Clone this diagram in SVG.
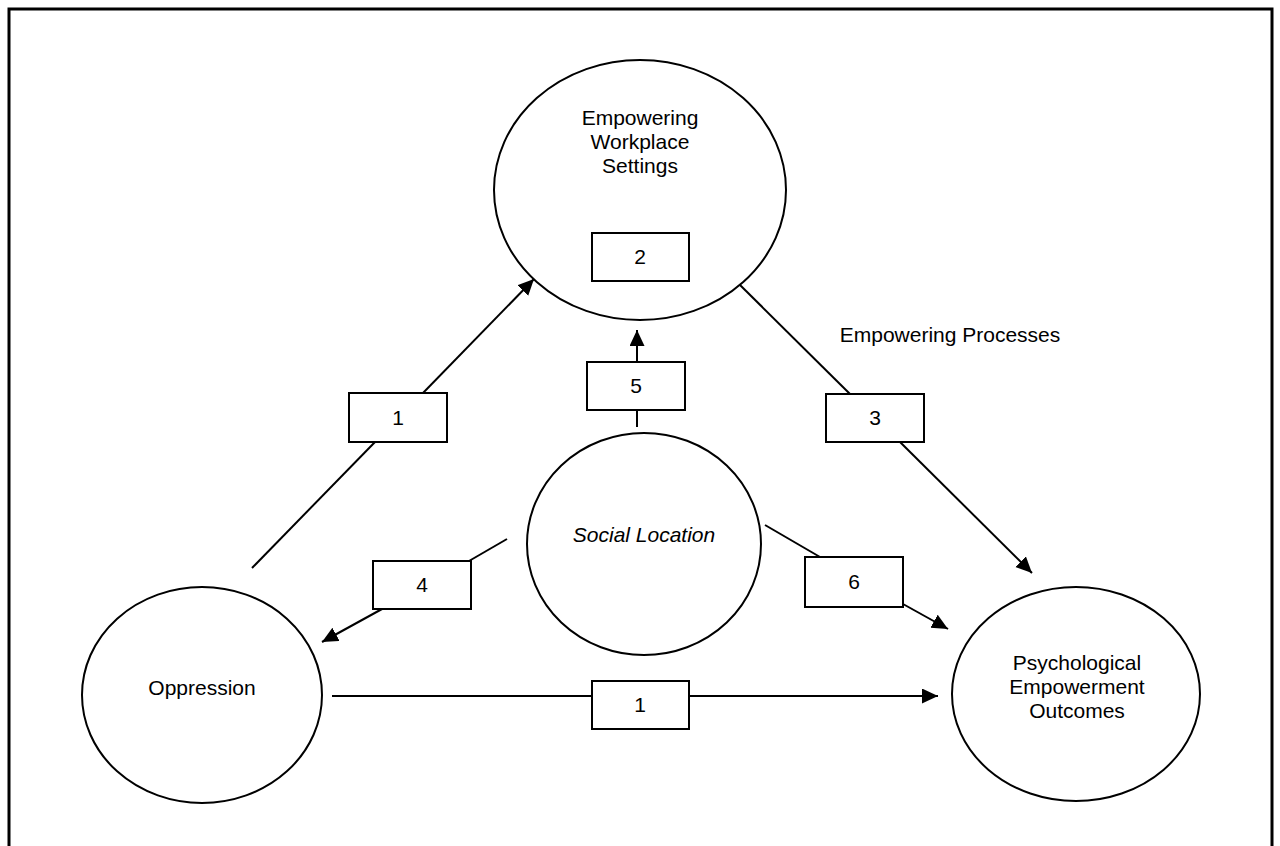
<svg xmlns="http://www.w3.org/2000/svg" width="1280" height="846" viewBox="0 0 1280 846">
<defs>
<style>
.n{fill:#fff;stroke:#000;stroke-width:2}
.b{fill:#fff;stroke:#000;stroke-width:2}
.c{fill:none;stroke:#000;stroke-width:2}
.t{font-family:"Liberation Sans",Arial,sans-serif;font-size:21px;fill:#000;text-anchor:middle}
</style>
<marker id="ah" markerUnits="userSpaceOnUse" markerWidth="17" markerHeight="16" refX="16" refY="7.5" orient="auto" viewBox="0 0 17 16">
<path d="M0,0 L16,7.5 L0,15 z" fill="#000"/>
</marker>
</defs>
<rect width="1280" height="846" fill="#fff"/>
<path d="M9,846 V9 H1272 V846" fill="none" stroke="#000" stroke-width="3"/>
<g id="connectors">
<line class="c" x1="252" y1="568" x2="375" y2="442"/>
<line class="c" x1="423" y1="393" x2="534" y2="279" marker-end="url(#ah)"/>
<line class="c" x1="740" y1="285" x2="850" y2="394"/>
<line class="c" x1="900" y1="442" x2="1032" y2="573" marker-end="url(#ah)"/>
<line class="c" x1="637" y1="427" x2="637" y2="410"/>
<line class="c" x1="637" y1="362" x2="637" y2="330" marker-end="url(#ah)"/>
<line class="c" x1="507" y1="539" x2="469" y2="561"/>
<line class="c" x1="382" y1="609" x2="322" y2="642" marker-end="url(#ah)"/>
<line class="c" x1="765" y1="525" x2="820" y2="557"/>
<line class="c" x1="903" y1="604" x2="948" y2="629" marker-end="url(#ah)"/>
<line class="c" x1="332" y1="696" x2="592" y2="696"/>
<line class="c" x1="689" y1="696" x2="938" y2="696" marker-end="url(#ah)"/>
</g>
<g id="node-workplace">
<ellipse class="n" cx="640" cy="190" rx="146" ry="130"/>
<text class="t" x="640" y="125">Empowering</text>
<text class="t" x="640" y="149">Workplace</text>
<text class="t" x="640" y="173">Settings</text>
</g>
<g id="node-social">
<ellipse class="n" cx="644" cy="544" rx="117" ry="111"/>
<text class="t" x="644" y="542" font-style="italic">Social Location</text>
</g>
<g id="node-oppression">
<ellipse class="n" cx="202" cy="695" rx="120" ry="108"/>
<text class="t" x="202" y="695">Oppression</text>
</g>
<g id="node-outcomes">
<ellipse class="n" cx="1076" cy="694" rx="124" ry="107"/>
<text class="t" x="1077" y="670">Psychological</text>
<text class="t" x="1077" y="694">Empowerment</text>
<text class="t" x="1077" y="718">Outcomes</text>
</g>
<g id="label-processes">
<text class="t" x="950" y="342">Empowering Processes</text>
</g>
<g id="box-2"><rect class="b" x="592" y="233" width="97" height="48"/><text class="t" x="640" y="264">2</text></g>
<g id="box-1a"><rect class="b" x="349" y="393" width="98" height="49"/><text class="t" x="398" y="425">1</text></g>
<g id="box-3"><rect class="b" x="826" y="394" width="98" height="48"/><text class="t" x="875" y="425">3</text></g>
<g id="box-5"><rect class="b" x="587" y="362" width="98" height="48"/><text class="t" x="636" y="393">5</text></g>
<g id="box-4"><rect class="b" x="373" y="561" width="98" height="48"/><text class="t" x="422" y="592">4</text></g>
<g id="box-6"><rect class="b" x="805" y="557" width="98" height="50"/><text class="t" x="854" y="589">6</text></g>
<g id="box-1b"><rect class="b" x="592" y="681" width="97" height="48"/><text class="t" x="640" y="712">1</text></g>
</svg>
